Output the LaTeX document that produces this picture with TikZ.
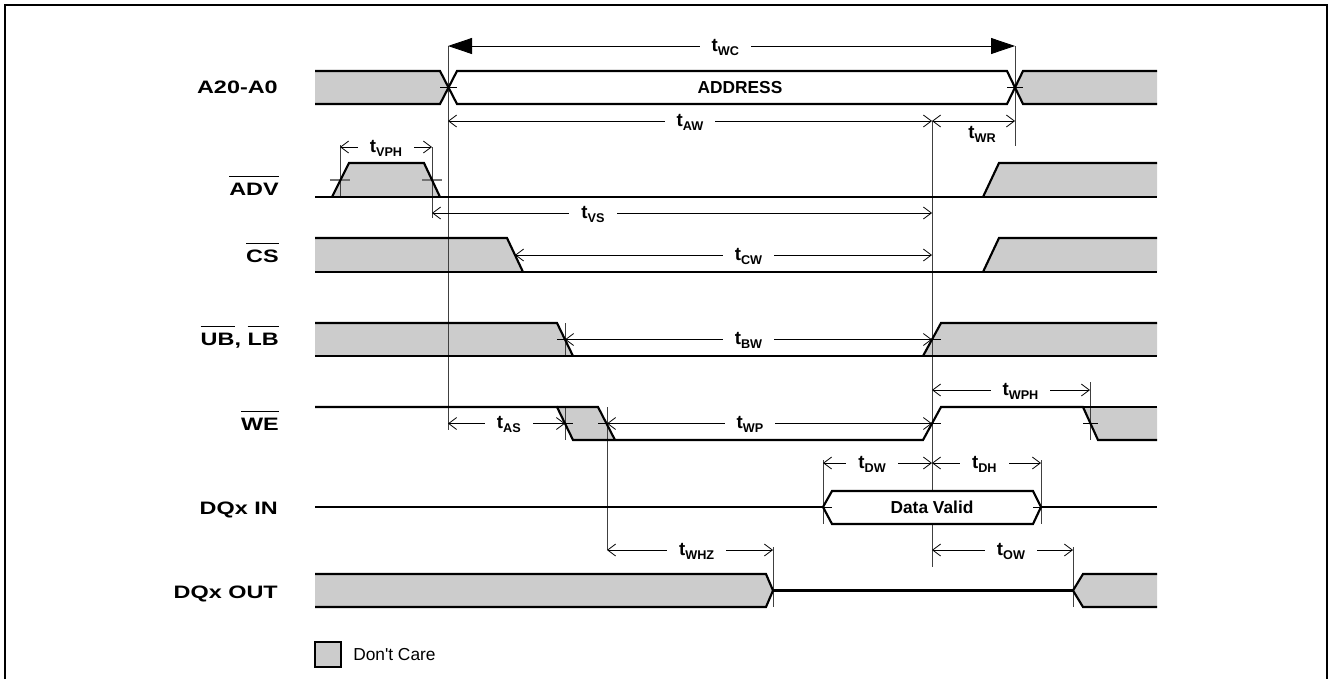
\documentclass[tikz,border=0pt]{standalone}
\usepackage{fontspec}
\usepackage{graphicx}
\setmainfont{Liberation Sans}
\newfontfamily\labfont[FakeStretch=1.3]{Liberation Sans}
\newfontfamily\tfont{Liberation Sans}
\newfontfamily\legfont{Liberation Sans}
\usetikzlibrary{arrows.meta}
\definecolor{dcgray}{RGB}{204,204,204}
\newcommand\myovl[1]{\leavevmode\setbox0\hbox{#1}\rlap{\raise\dimexpr\ht0+4pt\relax\hbox to\wd0{\leaders\hrule height 0.7pt\hfill}}\box0}
\newcommand\tlab[1]{{\tfont\bfseries\fontsize{14}{14}\selectfont t\raisebox{-3pt}{\fontsize{9.5}{9.5}\selectfont #1}}}
\begin{document}
\begin{tikzpicture}[x=0.75pt,y=-0.75pt,
  sig/.style={line width=1.6pt},
  shade/.style={fill=dcgray},
  guide/.style={line width=0.6pt,black!75},
  tickmark/.style={line width=0.6pt,black},
  graytick/.style={line width=0.8pt,black!55},
  dim/.style={line width=0.6pt,{Straight Barb[length=6pt,width=9pt]}-{Straight Barb[length=6pt,width=9pt]}},
  bigdim/.style={line width=0.6pt,{Triangle[length=18pt,width=12pt]}-{Triangle[length=18pt,width=12pt]}},
  lbl/.style={fill=white,inner xsep=9pt,inner ysep=1pt,anchor=base,yshift=-4pt},
  siglab/.style={anchor=base east,inner sep=0pt,font={\labfont\bfseries\fontsize{13.5}{16}\selectfont}},
  boxlab/.style={inner sep=0pt,font={\tfont\bfseries\fontsize{13}{15}\selectfont}}
]
\useasboundingbox (0,0) rectangle (1329,679);
% frame
\draw[line width=1pt] (5,679)--(5,5)--(1327,5)--(1327,679);

% ---------- fills ----------
\fill[shade] (315,71)--(440,71)--(448,87.5)--(440,104)--(315,104)--cycle;
\fill[shade] (1157,71)--(1023,71)--(1015,87.5)--(1023,104)--(1157,104)--cycle;
\fill[shade] (332,197)--(349,163)--(424,163)--(440,197)--cycle;
\fill[shade] (983,197)--(999,163)--(1157,163)--(1157,197)--cycle;
\fill[shade] (315,238)--(507,238)--(523,272)--(315,272)--cycle;
\fill[shade] (983,272)--(999,238)--(1157,238)--(1157,272)--cycle;
\fill[shade] (315,323)--(557,323)--(573,356)--(315,356)--cycle;
\fill[shade] (923,356)--(941,323)--(1157,323)--(1157,356)--cycle;
\fill[shade] (557,407)--(598,407)--(615,440)--(573,440)--cycle;
\fill[shade] (1083,407)--(1157,407)--(1157,440)--(1098,440)--cycle;
\fill[shade] (315,574)--(766,574)--(773,590.5)--(766,607)--(315,607)--cycle;
\fill[shade] (1157,574)--(1083,574)--(1073,590.5)--(1083,607)--(1157,607)--cycle;

% ---------- guide lines ----------
\draw[guide] (448,46)--(448,430);
\draw[guide] (1015,46)--(1015,146);
\draw[guide] (932,121)--(932,567);
\draw[guide] (340,145)--(340,197);
\draw[guide] (432,147)--(432,218);
\draw[guide] (565,323)--(565,356);
\draw[guide] (565,407)--(565,440);
\draw[guide] (607,407)--(607,550);
\draw[guide] (1090,382)--(1090,440);
\draw[guide] (823,460)--(823,524);
\draw[guide] (1041,460)--(1041,524);
\draw[guide] (773,547)--(773,607);
\draw[guide] (1073,547)--(1073,607);

% ---------- mid-level ticks ----------
\draw[tickmark] (440,87.5)--(457,87.5);
\draw[tickmark] (1007,87.5)--(1023,87.5);
\draw[graytick] (330,180)--(350,180);
\draw[graytick] (422,180)--(442,180);
\draw[tickmark] (557,339.5)--(573,339.5);
\draw[tickmark] (923,339.5)--(941,339.5);
\draw[tickmark] (557,423.5)--(573,423.5);
\draw[tickmark] (598,423.5)--(615,423.5);
\draw[tickmark] (923,423.5)--(941,423.5);
\draw[tickmark] (1083,423.5)--(1098,423.5);

% ---------- signals ----------
% A20-A0
\draw[sig] (315,71)--(440,71)--(457,104)--(1007,104)--(1023,71)--(1157,71);
\draw[sig] (315,104)--(440,104)--(457,71)--(1007,71)--(1023,104)--(1157,104);
\node[boxlab] (addr) at (740,87.5) {ADDRESS};
% ADV
\draw[sig] (315,197)--(1157,197);
\draw[sig] (332,197)--(349,163)--(424,163)--(440,197);
\draw[sig] (983,197)--(999,163)--(1157,163);
% CS
\draw[sig] (315,272)--(1157,272);
\draw[sig] (315,238)--(507,238)--(523,272);
\draw[sig] (983,272)--(999,238)--(1157,238);
% UB LB
\draw[sig] (315,356)--(1157,356);
\draw[sig] (315,323)--(557,323)--(573,356);
\draw[sig] (923,356)--(941,323)--(1157,323);
% WE
\draw[sig] (315,407)--(557,407)--(573,440)--(923,440)--(941,407)--(1083,407)--(1098,440)--(1157,440);
\draw[sig] (557,407)--(598,407)--(615,440);
\draw[sig] (1083,407)--(1157,407);
% DQx IN
\draw[sig] (315,507)--(823,507);
\draw[sig] (1041,507)--(1157,507);
\draw[sig,fill=white] (823,507)--(832,491)--(1033,491)--(1041,507)--(1033,524)--(832,524)--cycle;
\draw[tickmark] (823,507)--(832,507);
\draw[tickmark] (1033,507)--(1041,507);
\node[boxlab] (dv) at (932,507) {Data Valid};
% DQx OUT
\draw[sig] (315,574)--(766,574)--(773,590.5)--(766,607)--(315,607);
\draw[sig] (773,590.5)--(1073,590.5);
\draw[sig] (1157,574)--(1083,574)--(1073,590.5)--(1083,607)--(1157,607);

% ---------- signal names ----------
\node[siglab] (nA) at (278,93.3) {A20-A0};
\node[siglab] (nADV) at (279,195) {\myovl{ADV}};
\node[siglab] (nCS) at (279,262) {\myovl{CS}};
\node[siglab] (nUB) at (279,345) {\myovl{UB}, \myovl{LB}};
\node[siglab] (nWE) at (279,430) {\myovl{WE}};
\node[siglab] (nIN) at (278,514) {DQx IN};
\node[siglab] (nOUT) at (278,598) {DQx OUT};

% ---------- timing dimensions ----------
\coordinate (wcL) at (448,46);   \coordinate (wcR) at (1015,46);
\coordinate (awL) at (448,121);  \coordinate (awR) at (932,121);  \coordinate (wrR) at (1015,121);
\coordinate (vphL) at (340,147); \coordinate (vphR) at (432,147);
\coordinate (vsL) at (432,213);  \coordinate (vsR) at (932,213);
\coordinate (cwL) at (515,255);  \coordinate (cwR) at (932,255);
\coordinate (bwL) at (565,339.5);\coordinate (bwR) at (932,339.5);
\coordinate (wphL) at (932,390); \coordinate (wphR) at (1090,390);
\coordinate (asL) at (448,423.5);\coordinate (asR) at (565,423.5);
\coordinate (wpL) at (607,423.5);\coordinate (wpR) at (932,423.5);
\coordinate (dwL) at (823,463);  \coordinate (dwM) at (932,463);  \coordinate (dhR) at (1041,463);
\coordinate (whzL) at (607,550); \coordinate (whzR) at (773,550);
\coordinate (owL) at (932,550);  \coordinate (owR) at (1073,550);

\draw[bigdim] (wcL) -- (wcR) node[lbl,pos=0.489] {\tlab{WC}};
\draw[dim] (awL) -- (awR) node[lbl,pos=0.5] {\tlab{AW}};
\draw[dim] (awR) -- (wrR);
\node[anchor=base,inner sep=0pt] (twr) at (982,138) {\tlab{WR}};
\draw[dim] (vphL) -- (vphR) node[lbl,pos=0.5] {\tlab{VPH}};
\draw[dim] (vsL) -- (vsR) node[lbl,pos=0.322] {\tlab{VS}};
\draw[dim] (cwL) -- (cwR) node[lbl,pos=0.56] {\tlab{CW}};
\draw[dim] (bwL) -- (bwR) node[lbl,pos=0.5] {\tlab{BW}};
\draw[dim] (wphL) -- (wphR) node[lbl,pos=0.56] {\tlab{WPH}};
\draw[dim] (asL) -- (asR) node[lbl,pos=0.52] {\tlab{AS}};
\draw[dim] (wpL) -- (wpR) node[lbl,pos=0.44] {\tlab{WP}};
\draw[dim] (dwL) -- (dwM) node[lbl,pos=0.45] {\tlab{DW}};
\draw[dim] (dwM) -- (dhR) node[lbl,pos=0.48] {\tlab{DH}};
\draw[dim] (whzL) -- (whzR) node[lbl,pos=0.54] {\tlab{WHZ}};
\draw[dim] (owL) -- (owR) node[lbl,pos=0.56] {\tlab{OW}};

% ---------- legend ----------
\draw[line width=1.2pt,fill=dcgray] (315,642) rectangle (341,667);
\node[anchor=west,inner sep=0pt,font={\legfont\fontsize{13}{15}\selectfont}] (leg) at (353,654.5) {Don't Care};
\end{tikzpicture}
\end{document}
